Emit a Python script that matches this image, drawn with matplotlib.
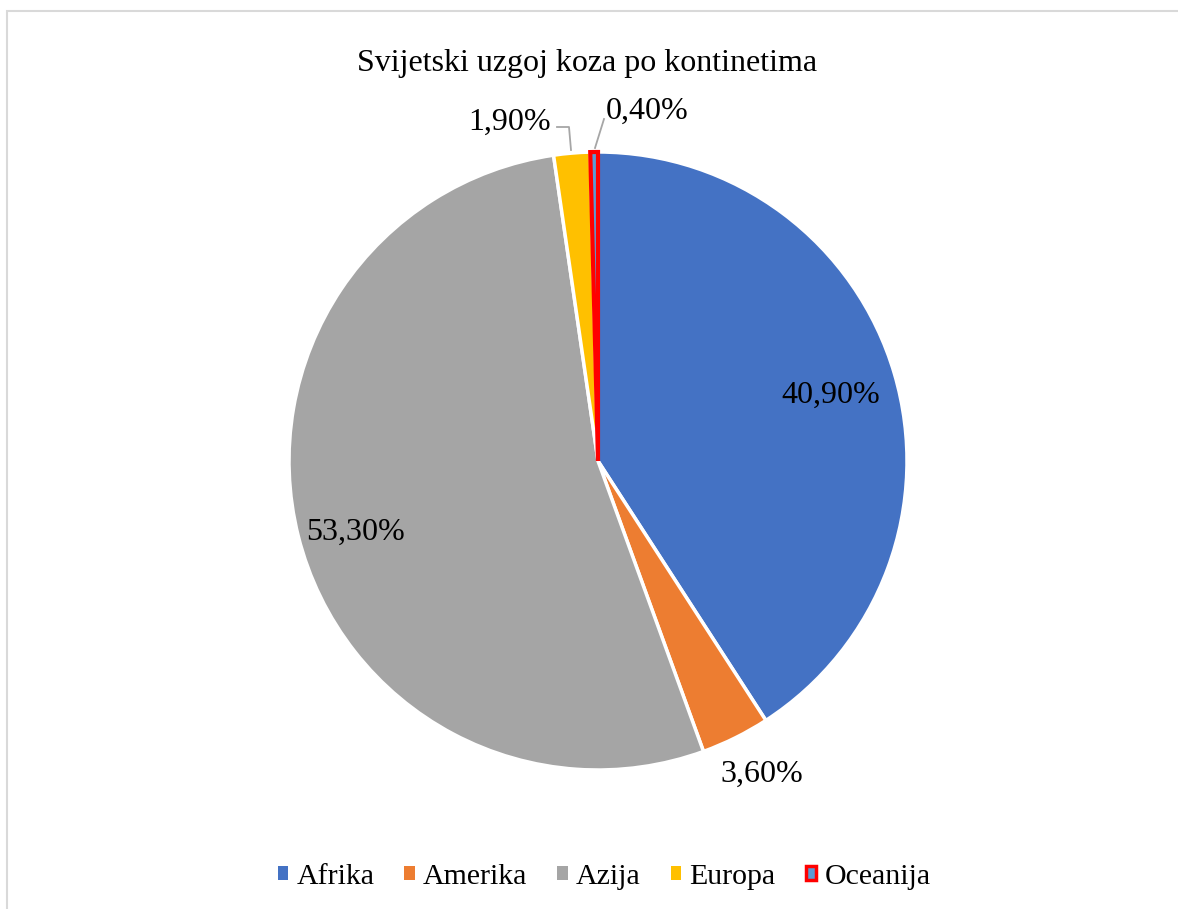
import matplotlib
matplotlib.use("Agg")
import matplotlib.pyplot as plt
from matplotlib.patches import Patch, Rectangle
import numpy as np

title = "Svijetski uzgoj koza po kontinetima"
categories = ["Afrika", "Amerika", "Azija", "Europa", "Oceanija"]
values = [40.9, 3.6, 53.3, 1.9, 0.4]
colors = ["#4472C4", "#ED7D31", "#A5A5A5", "#FFC000", "#5B9BD5"]

plt.rcParams['font.family'] = ['Liberation Serif', 'DejaVu Serif']

W, H = 1178, 909
fig = plt.figure(figsize=(W / 100, H / 100), dpi=100)
ax = fig.add_axes([0, 0, 1, 1])
ax.set_xlim(0, W)
ax.set_ylim(0, H)
ax.set_aspect('equal')
ax.axis('off')

# chart border
ax.add_patch(Rectangle((7, -5), W, H - 11 + 5, fill=False, edgecolor="#D9D9D9", lw=1.5))

cx, cy, R = 598, H - 461, 309
wedges, _ = ax.pie(values, colors=colors, startangle=90, counterclock=False,
                   center=(cx, cy), radius=R, frame=True,
                   wedgeprops=dict(edgecolor="white", linewidth=2.5))
ax.set_xlim(0, W)
ax.set_ylim(0, H)
ax.axis('off')
wedges[4].set_edgecolor("#FF0000")
wedges[4].set_linewidth(3)
wedges[4].set_zorder(5)

def fmt(v):
    return f"{v:.2f}%".replace('.', ',')

fs = 23
# label placement in pixel coordinates (style only)
label_px = [(831, 395), (762, 774), (356, 532), (510, 122), (647, 111)]
for v, (px, py) in zip(values, label_px):
    ax.text(px, H - py, fmt(v), ha='center', va='center', fontsize=fs)

# leader lines for small slices
ax.plot([557, 569, 571], [H - 127, H - 127, H - 150], color="#A6A6A6", lw=1.3)
ax.plot([604, 595], [H - 119, H - 148], color="#A6A6A6", lw=1.3)

ax.text(587, H - 64, title, ha='center', va='center', fontsize=23)

handles = [Patch(facecolor=c, edgecolor=c, lw=0) for c in colors[:4]]
handles.append(Patch(facecolor=colors[4], edgecolor="#FF0000", lw=2.5))
leg = ax.legend(handles, categories, loc='center', bbox_to_anchor=(604 / W, 1 - 877 / H),
                ncol=5, frameon=False, fontsize=21.5, handlelength=0.36, handleheight=0.36,
                handletextpad=0.27, columnspacing=1.0)

fig.savefig("out.png", dpi=100)
